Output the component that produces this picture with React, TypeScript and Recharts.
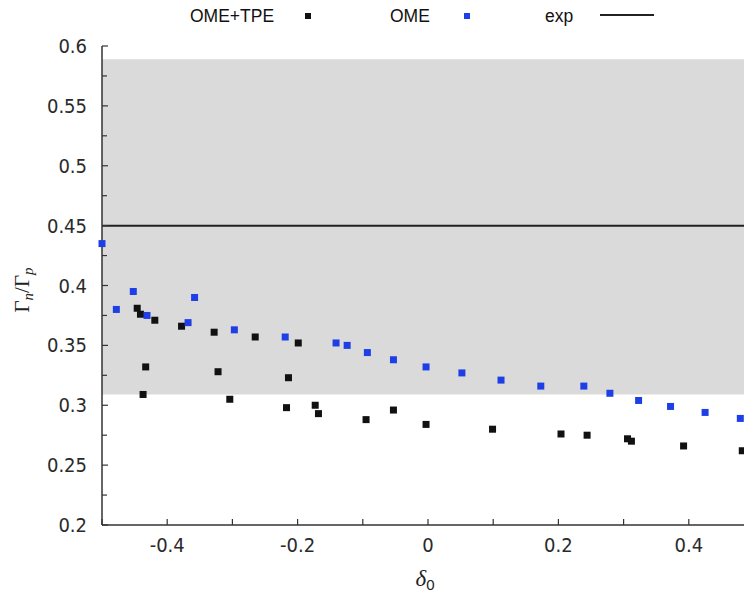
import React from 'react';
import { ScatterChart, Scatter, XAxis, YAxis, ReferenceArea, ReferenceLine } from 'recharts';

// OME+TPE (black squares)
const omeTpe = [
  { x: -0.446, y: 0.381 }, { x: -0.441, y: 0.376 }, { x: -0.437, y: 0.309 },
  { x: -0.433, y: 0.332 }, { x: -0.419, y: 0.371 }, { x: -0.378, y: 0.366 },
  { x: -0.328, y: 0.361 }, { x: -0.322, y: 0.328 }, { x: -0.304, y: 0.305 },
  { x: -0.265, y: 0.357 }, { x: -0.217, y: 0.298 }, { x: -0.214, y: 0.323 },
  { x: -0.199, y: 0.352 }, { x: -0.173, y: 0.3 }, { x: -0.168, y: 0.293 },
  { x: -0.095, y: 0.288 }, { x: -0.053, y: 0.296 }, { x: -0.003, y: 0.284 },
  { x: 0.099, y: 0.28 }, { x: 0.204, y: 0.276 }, { x: 0.244, y: 0.275 },
  { x: 0.306, y: 0.272 }, { x: 0.312, y: 0.27 }, { x: 0.392, y: 0.266 },
  { x: 0.482, y: 0.262 },
];

// OME only (blue squares)
const ome = [
  { x: -0.5, y: 0.435 }, { x: -0.478, y: 0.38 }, { x: -0.452, y: 0.395 },
  { x: -0.431, y: 0.375 }, { x: -0.368, y: 0.369 }, { x: -0.358, y: 0.39 },
  { x: -0.297, y: 0.363 }, { x: -0.219, y: 0.357 }, { x: -0.141, y: 0.352 },
  { x: -0.124, y: 0.35 }, { x: -0.093, y: 0.344 }, { x: -0.053, y: 0.338 },
  { x: -0.003, y: 0.332 }, { x: 0.052, y: 0.327 }, { x: 0.112, y: 0.321 },
  { x: 0.173, y: 0.316 }, { x: 0.239, y: 0.316 }, { x: 0.279, y: 0.31 },
  { x: 0.323, y: 0.304 }, { x: 0.372, y: 0.299 }, { x: 0.425, y: 0.294 },
  { x: 0.479, y: 0.289 },
];

// experimental value and its band
const expValue = 0.45;
const expBand = [0.309, 0.589];

const xTicks = [-0.5, -0.4, -0.3, -0.2, -0.1, 0, 0.1, 0.2, 0.3, 0.4, 0.5];
const xLabeledTicks = [-0.4, -0.2, 0, 0.2, 0.4];
const xTickLabels = ['-0.4', '-0.2', '0', '0.2', '0.4'];

const yTicks = [0.2, 0.225, 0.25, 0.275, 0.3, 0.325, 0.35, 0.375, 0.4, 0.425, 0.45, 0.475, 0.5, 0.525, 0.55, 0.575, 0.6];
const yLabeledTicks = [0.2, 0.25, 0.3, 0.35, 0.4, 0.45, 0.5, 0.55, 0.6];
const yTickLabels = ['0.2', '0.25', '0.3', '0.35', '0.4', '0.45', '0.5', '0.55', '0.6'];

const legendItems = [
  { name: 'OME+TPE', color: '#111111', kind: 'square' },
  { name: 'OME', color: '#1f3fe6', kind: 'square' },
  { name: 'exp', color: '#222222', kind: 'line' },
];

const tickFont = '"Liberation Sans Narrow", "DejaVu Sans Condensed", sans-serif';
const axisColor = '#333';

const findLabel = (v: number, vals: number[], labels: string[]) => {
  const i = vals.findIndex((t) => Math.abs(t - v) < 1e-6);
  return i >= 0 ? labels[i] : null;
};

const XTick = (props: any) => {
  const { x, y, payload } = props;
  const label = findLabel(payload.value, xLabeledTicks, xTickLabels);
  return (
    <g>
      <line x1={x} x2={x} y1={y} y2={y - 6} stroke={axisColor} strokeWidth={1.2} />
      {label && (
        <text x={x} y={y + 27} textAnchor="middle" fontFamily={tickFont} fontSize={20} fill="#2a2a2a">
          {label}
        </text>
      )}
    </g>
  );
};

const TopTick = (props: any) => {
  const { x, y } = props;
  return <line x1={x} x2={x} y1={y} y2={y + 6} stroke={axisColor} strokeWidth={1.2} />;
};

const YTick = (props: any) => {
  const { x, y, payload } = props;
  const label = findLabel(payload.value, yLabeledTicks, yTickLabels);
  return (
    <g>
      <line x1={x} x2={x + (label ? 6 : 5)} y1={y} y2={y} stroke={axisColor} strokeWidth={1.2} />
      {label && (
        <text x={x - 15} y={y + 7} textAnchor="end" fontFamily={tickFont} fontSize={20} fill="#2a2a2a">
          {label}
        </text>
      )}
    </g>
  );
};

const Square = (color: string) => (props: any) => {
  const { cx, cy } = props;
  return <rect x={cx - 3.5} y={cy - 3.5} width={7} height={7} fill={color} />;
};

const YLabel = () => (
  <text
    x={29}
    y={290}
    transform="rotate(-90, 29, 290)"
    textAnchor="middle"
    fontFamily='"Liberation Serif", "DejaVu Serif", serif'
    fontSize={21}
    fill="#222"
  >
    Γ
    <tspan fontStyle="italic" fontSize={15} dy={4}>n</tspan>
    <tspan dy={-4}>/Γ</tspan>
    <tspan fontStyle="italic" fontSize={15} dy={4}>p</tspan>
  </text>
);

const XLabel = () => (
  <text x={425} y={586} textAnchor="middle" fill="#222">
    <tspan fontFamily='"Liberation Serif", "DejaVu Serif", serif' fontStyle="italic" fontSize={23}>δ</tspan>
    <tspan fontFamily='"Liberation Sans", sans-serif' fontSize={15} dy={4}>0</tspan>
  </text>
);

const Legend = () => {
  const pos = [
    { textX: 190, markX: 308 },
    { textX: 390, markX: 467 },
    { textX: 545, markX: 600 },
  ];
  return (
    <div style={{ position: 'absolute', left: 0, top: 0, width: 744, height: 34, fontFamily: '"Liberation Sans", sans-serif', fontSize: 17.5, color: '#111' }}>
      {legendItems.map((it, i) => (
        <React.Fragment key={it.name}>
          <span style={{ position: 'absolute', left: pos[i].textX, top: 6 }}>{it.name}</span>
          {it.kind === 'square' ? (
            <span style={{ position: 'absolute', left: pos[i].markX - 3, top: 13, width: 6, height: 6, background: it.color }} />
          ) : (
            <span style={{ position: 'absolute', left: pos[i].markX, top: 14, width: 54, height: 2, background: it.color }} />
          )}
        </React.Fragment>
      ))}
    </div>
  );
};

export default function App() {
  return (
    <div style={{ position: 'fixed', left: 0, top: 0, width: 744, height: 593, overflow: 'hidden', background: '#fff' }}>
      <Legend />
      <ScatterChart width={774} height={593} margin={{ top: 46, right: 20, bottom: 0, left: 40 }}>
        <ReferenceArea y1={expBand[0]} y2={expBand[1]} x1={-0.5} x2={0.5} fill="#dadada" fillOpacity={1} stroke="none" />
        <ReferenceLine y={expValue} stroke="#222" strokeWidth={2} />
        <XAxis
          dataKey="x"
          type="number"
          domain={[-0.5, 0.5]}
          ticks={xTicks}
          interval={0}
          tickSize={0}
          tickMargin={0}
          tickLine={false}
          height={68}
          axisLine={{ stroke: axisColor, strokeWidth: 1.5 }}
          tick={<XTick />}
          label={<XLabel />}
        />
        <XAxis
          xAxisId="top"
          orientation="top"
          type="number"
          domain={[-0.5, 0.5]}
          ticks={xTicks}
          interval={0}
          tickSize={0}
          tickMargin={0}
          tickLine={false}
          height={0}
          axisLine={{ stroke: axisColor, strokeWidth: 1.5 }}
          tick={<TopTick />}
        />
        <YAxis
          dataKey="y"
          type="number"
          domain={[0.2, 0.6]}
          ticks={yTicks}
          interval={0}
          tickSize={0}
          tickMargin={0}
          tickLine={false}
          width={62}
          axisLine={{ stroke: axisColor, strokeWidth: 1.5 }}
          tick={<YTick />}
          label={<YLabel />}
        />
        <Scatter name="OME+TPE" data={omeTpe} shape={Square('#111111')} isAnimationActive={false} />
        <Scatter name="OME" data={ome} shape={Square('#1f3fe6')} isAnimationActive={false} />
      </ScatterChart>
    </div>
  );
}
